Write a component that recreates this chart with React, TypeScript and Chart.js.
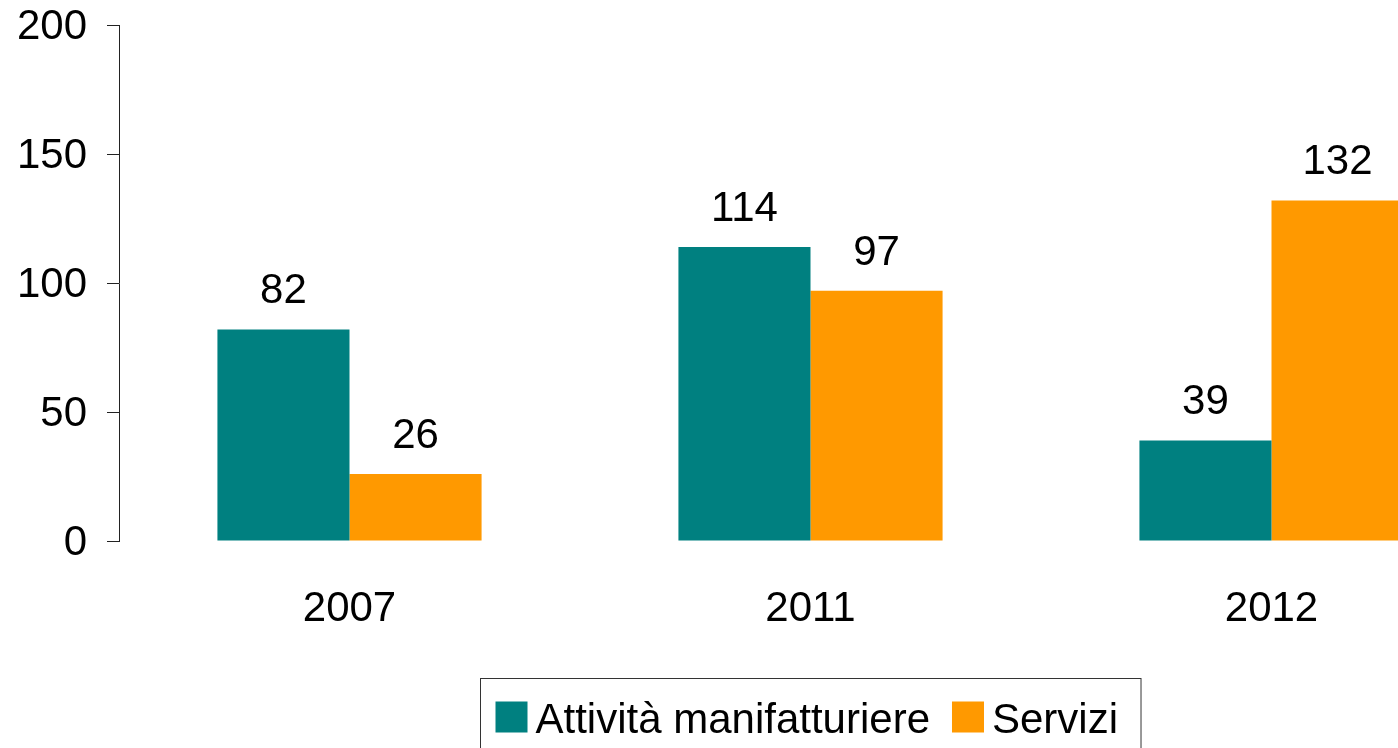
import React, { useEffect, useRef } from "react";
import { Chart, registerables } from "chart.js";

Chart.register(...registerables);

const categories = ["2007", "2011", "2012"];
const manifatturiere = [82, 114, 39];
const servizi = [26, 97, 132];
const seriesNames = ["Attività manifatturiere", "Servizi"];
const seriesColors = ["#008080", "#FF9900"];
const yMin = 0;
const yMax = 200;
const yStep = 50;

const FONT = "'Liberation Sans', Arial, Helvetica, sans-serif";
const FONT_SIZE = 42;

const CANVAS_W = 1520;
const CANVAS_H = 748;

const dataLabelPlugin = {
  id: "dataLabelPlugin",
  afterDatasetsDraw(chart: any) {
    const ctx = chart.ctx;
    ctx.save();
    ctx.font = `${FONT_SIZE}px ${FONT}`;
    ctx.fillStyle = "#000";
    ctx.textAlign = "center";
    ctx.textBaseline = "alphabetic";
    chart.data.datasets.forEach((ds: any, i: number) => {
      const meta = chart.getDatasetMeta(i);
      meta.data.forEach((el: any, j: number) => {
        ctx.fillText(String(ds.data[j]), el.x, el.y - 26);
      });
    });
    ctx.restore();
  },
};

const legendBoxPlugin = {
  id: "legendBoxPlugin",
  afterDraw(chart: any) {
    const ctx = chart.ctx;
    const area = chart.chartArea;
    ctx.save();
    ctx.font = `${FONT_SIZE}px ${FONT}`;
    const padL = 15;
    const padR = 23;
    const box = 32;
    const boxH = 31;
    const textGap = 8;
    const itemGap = 22;
    const items = chart.data.datasets.map((ds: any) => ({
      label: ds.label,
      color: ds.backgroundColor,
      w: ctx.measureText(ds.label).width,
    }));
    let total = padL + padR;
    items.forEach((it: any, i: number) => {
      total += box + textGap + it.w + (i < items.length - 1 ? itemGap : 0);
    });
    const cx = (area.left + area.right) / 2;
    const left = Math.round(cx - total / 2) + 0.5;
    const top = 678.5;
    ctx.strokeStyle = "#333";
    ctx.lineWidth = 1;
    ctx.strokeRect(left, top, total, 120);
    let x = left + padL;
    const boxTop = top + 23;
    items.forEach((it: any) => {
      ctx.fillStyle = it.color;
      ctx.fillRect(x, boxTop, box, boxH);
      x += box + textGap;
      ctx.fillStyle = "#000";
      ctx.textAlign = "left";
      ctx.textBaseline = "alphabetic";
      ctx.fillText(it.label, x, boxTop + boxH);
      x += it.w + itemGap;
    });
    ctx.restore();
  },
};

export default function App() {
  const canvasRef = useRef<HTMLCanvasElement | null>(null);

  useEffect(() => {
    if (!canvasRef.current) return;
    const chart = new Chart(canvasRef.current, {
      type: "bar",
      data: {
        labels: categories,
        datasets: [
          {
            label: seriesNames[0],
            data: manifatturiere,
            backgroundColor: seriesColors[0],
            borderWidth: 0,
            categoryPercentage: 0.573,
            barPercentage: 1.0,
          },
          {
            label: seriesNames[1],
            data: servizi,
            backgroundColor: seriesColors[1],
            borderWidth: 0,
            categoryPercentage: 0.573,
            barPercentage: 1.0,
          },
        ],
      },
      options: {
        responsive: false,
        animation: false,
        devicePixelRatio: 1,
        layout: {
          padding: { top: 25, right: 18, left: 0, bottom: 0 },
        },
        plugins: {
          legend: { display: false },
          tooltip: { enabled: false },
          title: { display: false },
        },
        scales: {
          x: {
            grid: { display: false, drawTicks: false },
            border: { display: false },
            ticks: {
              color: "#000",
              padding: 43,
              font: { family: FONT, size: FONT_SIZE },
            },
            afterFit(scale: any) {
              scale.height = 207;
              scale.paddingLeft = 0;
              scale.paddingRight = 0;
            },
          },
          y: {
            min: yMin,
            max: yMax,
            grid: {
              drawOnChartArea: false,
              drawTicks: true,
              tickLength: 12,
              color: "#222",
            },
            border: { display: true, color: "#222", width: 1 },
            ticks: {
              stepSize: yStep,
              color: "#000",
              padding: 20,
              labelOffset: 2,
              font: { family: FONT, size: FONT_SIZE },
            },
            afterFit(scale: any) {
              scale.width = 119;
              scale.paddingTop = 0;
              scale.paddingBottom = 0;
            },
          },
        },
      },
      plugins: [dataLabelPlugin, legendBoxPlugin],
    } as any);
    return () => chart.destroy();
  }, []);

  return (
    <div
      style={{
        position: "fixed",
        left: 0,
        top: 0,
        width: 1398,
        height: 748,
        overflow: "hidden",
        background: "#fff",
      }}
    >
      <canvas
        ref={canvasRef}
        width={CANVAS_W}
        height={CANVAS_H}
        style={{ display: "block", width: CANVAS_W, height: CANVAS_H }}
      />
    </div>
  );
}
